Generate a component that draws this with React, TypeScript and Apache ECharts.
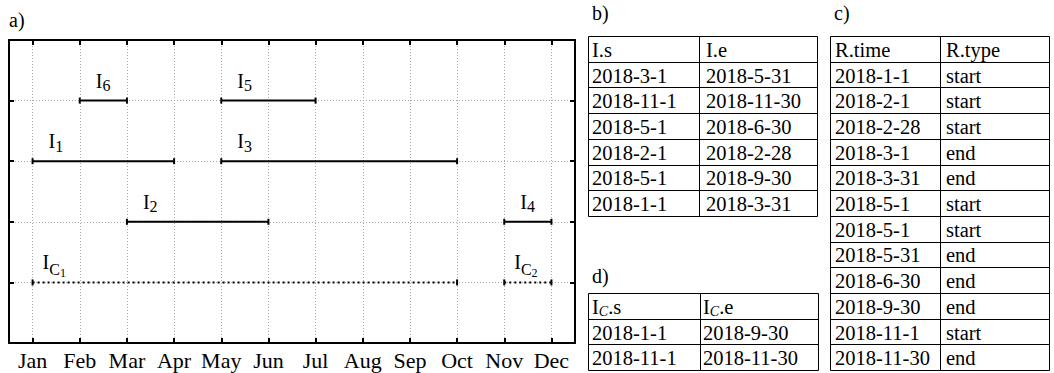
import React, { useEffect, useRef } from 'react';
import * as echarts from 'echarts';

// ---- data ----
const months = ['Jan', 'Feb', 'Mar', 'Apr', 'May', 'Jun', 'Jul', 'Aug', 'Sep', 'Oct', 'Nov', 'Dec'];
const monthPositions = [1, 2, 3, 4, 5, 6, 7, 8, 9, 10, 11, 12];

const intervalSubs = ['1', '2', '3', '4', '5', '6'];
const intervalStart = [1, 3, 5, 11, 5, 2];
const intervalEnd = [4, 6, 10, 12, 7, 3];
const intervalRow = [3, 2, 3, 2, 4, 4];

const coalescedSubs = ['1', '2'];
const coalescedStart = [1, 11];
const coalescedEnd = [10, 12];
const coalescedRow = [1, 1];

const tableBHeader = ['I.s', 'I.e'];
const tableBStart = ['2018-3-1', '2018-11-1', '2018-5-1', '2018-2-1', '2018-5-1', '2018-1-1'];
const tableBEnd = ['2018-5-31', '2018-11-30', '2018-6-30', '2018-2-28', '2018-9-30', '2018-3-31'];

const tableCHeader = ['R.time', 'R.type'];
const tableCTime = ['2018-1-1', '2018-2-1', '2018-2-28', '2018-3-1', '2018-3-31', '2018-5-1', '2018-5-1', '2018-5-31', '2018-6-30', '2018-9-30', '2018-11-1', '2018-11-30'];
const tableCType = ['start', 'start', 'start', 'end', 'end', 'start', 'start', 'end', 'end', 'end', 'start', 'end'];

const tableDHeader = ['{m|I}{c|C}{m|.s}', '{m|I}{c|C}{m|.e}'];
const tableDStart = ['2018-1-1', '2018-11-1'];
const tableDEnd = ['2018-9-30', '2018-11-30'];

const panelLetters = ['a)', 'b)', 'c)', 'd)'];

// ---- styling ----
const FONT = "'Liberation Serif', 'Times New Roman', serif";
const ROW_H = 25.7;
const TABLE_FS = 20.5;

const labelRich = {
  m: { fontSize: 20, fontFamily: FONT, color: '#000', verticalAlign: 'top' },
  s: { fontSize: 16, fontFamily: FONT, color: '#000', verticalAlign: 'top', padding: [7, 0, 0, 0] },
  c: { fontSize: 16, fontFamily: FONT, color: '#000', verticalAlign: 'top', padding: [9, 0, 0, 0] },
  cs: { fontSize: 12, fontFamily: FONT, color: '#000', verticalAlign: 'top', padding: [15, 0, 0, 0] },
};

const headerRich = {
  m: { fontSize: TABLE_FS, fontFamily: FONT, color: '#000', verticalAlign: 'top' },
  c: { fontSize: 14, fontFamily: FONT, fontStyle: 'italic', color: '#000', verticalAlign: 'top', padding: [8, 0, 0, 0] },
};

function buildTable(
  left: number, divider: number, right: number, top: number,
  col1: string[], col2: string[], pad1: number, pad2: number, rich?: any
) {
  const els: any[] = [];
  const n = col1.length;
  const y = (i: number) => Math.round(top + i * ROW_H) + 0.5;
  const L = Math.round(left) + 0.5;
  const R = Math.round(right) + 0.5;
  const D = Math.round(divider) + 0.5;
  for (let i = 0; i <= n; i++) {
    els.push({ type: 'line', shape: { x1: L, y1: y(i), x2: R, y2: y(i) }, style: { stroke: '#000', lineWidth: 1 } });
  }
  els.push({ type: 'line', shape: { x1: L, y1: y(0), x2: L, y2: y(n) }, style: { stroke: '#000', lineWidth: 1 } });
  els.push({ type: 'line', shape: { x1: D, y1: y(0), x2: D, y2: y(n) }, style: { stroke: '#000', lineWidth: 1 } });
  els.push({ type: 'line', shape: { x1: R, y1: y(0), x2: R, y2: y(n) }, style: { stroke: '#000', lineWidth: 1 } });
  for (let i = 0; i < n; i++) {
    const cy = top + i * ROW_H + ROW_H / 2 + 1;
    const base = { fontSize: TABLE_FS, fontFamily: FONT, fill: '#000', verticalAlign: 'middle', align: 'left' } as any;
    if (rich && i === 0) {
      els.push({ type: 'text', x: left + pad1, y: cy - 10, style: { ...base, verticalAlign: 'top', text: col1[i], rich } });
      els.push({ type: 'text', x: divider + pad2, y: cy - 10, style: { ...base, verticalAlign: 'top', text: col2[i], rich } });
    } else {
      els.push({ type: 'text', x: left + pad1, y: cy, style: { ...base, text: col1[i] } });
      els.push({ type: 'text', x: divider + pad2, y: cy, style: { ...base, text: col2[i] } });
    }
  }
  return els;
}

export default function App() {
  const ref = useRef<HTMLDivElement>(null);

  useEffect(() => {
    if (!ref.current) return;
    const chart = echarts.init(ref.current, undefined, { renderer: 'svg' });

    const series: any[] = [];
    intervalSubs.forEach((s, i) => {
      series.push({
        type: 'line',
        name: 'I' + s,
        xAxisIndex: 0,
        yAxisIndex: 0,
        data: [
          { value: [intervalStart[i], intervalRow[i]], label: { show: true, formatter: () => `{m|I}{s|${s}}` } },
          { value: [intervalEnd[i], intervalRow[i]] },
        ],
        symbol: 'rect',
        symbolSize: [2, 6],
        showSymbol: true,
        itemStyle: { color: '#000' },
        lineStyle: { color: '#000', width: 2 },
        label: { show: false, position: [17, -27], align: 'left', verticalAlign: 'top', rich: labelRich },
        z: 3,
        silent: true,
      });
    });
    coalescedSubs.forEach((s, i) => {
      series.push({
        type: 'line',
        name: 'IC' + s,
        xAxisIndex: 0,
        yAxisIndex: 0,
        data: [
          { value: [coalescedStart[i], coalescedRow[i]], label: { show: true, formatter: () => `{m|I}{c|C}{cs|${s}}` } },
          { value: [coalescedEnd[i], coalescedRow[i]] },
        ],
        symbol: 'rect',
        symbolSize: [2, 6],
        showSymbol: true,
        itemStyle: { color: '#000' },
        lineStyle: { color: '#000', width: 2, type: [2, 3] },
        label: { show: false, position: [11, -27], align: 'left', verticalAlign: 'top', rich: labelRich },
        z: 3,
        silent: true,
      });
    });

    const axisLine = { show: true, onZero: false, lineStyle: { color: '#000', width: 2 } };
    const tick = { show: true, inside: true, length: 5, lineStyle: { color: '#000', width: 2 } };
    const grid = { show: true, lineStyle: { color: '#aaa', type: [1, 2], width: 1 } };

    const letter = (text: string, x: number, y: number) => ({
      type: 'text', x, y, style: { text, fontSize: 20, fontFamily: FONT, fill: '#000', verticalAlign: 'middle' },
    });

    const graphic: any[] = [
      letter(panelLetters[0], 9, 20),
      letter(panelLetters[1], 592, 13),
      letter(panelLetters[2], 834, 13),
      letter(panelLetters[3], 592, 276),
      ...buildTable(588, 699, 817, 36, [tableBHeader[0], ...tableBStart], [tableBHeader[1], ...tableBEnd], 4, 7),
      ...buildTable(830, 940, 1049, 36, [tableCHeader[0], ...tableCTime], [tableCHeader[1], ...tableCType], 5, 6),
      ...buildTable(588, 700, 818, 293, [tableDHeader[0], ...tableDStart], [tableDHeader[1], ...tableDEnd], 4, 3, headerRich),
    ];

    chart.setOption({
      animation: false,
      textStyle: { fontFamily: FONT },
      grid: { left: 9, right: 479, top: 40, bottom: 30, containLabel: false },
      xAxis: [
        {
          type: 'value', position: 'bottom', min: 0.5, max: 12.5,
          axisLine,
          axisTick: { ...tick, customValues: monthPositions },
          axisLabel: {
            show: true, customValues: monthPositions, margin: 6, fontSize: 22, fontFamily: FONT, color: '#000',
            formatter: (v: number) => months[Math.round(v) - 1] ?? '',
          },
          splitLine: grid,
        },
        {
          type: 'value', position: 'top', min: 0.5, max: 12.5,
          axisLine,
          axisTick: { ...tick, customValues: monthPositions },
          axisLabel: { show: false },
          splitLine: { show: false },
        },
      ],
      yAxis: [
        {
          type: 'value', position: 'left', min: 0, max: 5, interval: 1,
          axisLine, axisTick: tick, axisLabel: { show: false }, splitLine: grid,
        },
        {
          type: 'value', position: 'right', min: 0, max: 5, interval: 1,
          axisLine, axisTick: tick, axisLabel: { show: false }, splitLine: { show: false },
        },
      ],
      series,
      graphic,
    });

    return () => chart.dispose();
  }, []);

  return <div ref={ref} style={{ position: 'absolute', left: 0, top: 0, width: 1054, height: 373 }} />;
}
